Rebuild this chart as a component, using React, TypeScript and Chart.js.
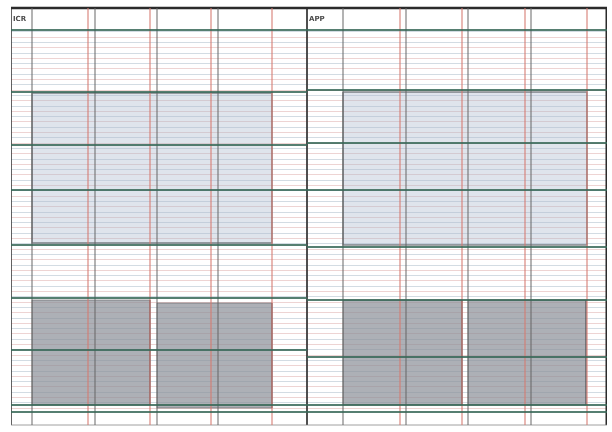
import React, { useEffect, useRef } from 'react';
import { Chart, registerables } from 'chart.js';

Chart.register(...registerables);

// Spread frame (layout units)
const spreadTop = 8;
const spreadBottom = 425;
const pageLeft = [11, 307];
const pageRight = [307, 607];
const pageLabels = ['ICR', 'APP'];

// Column guides (start / end of each column)
const leftColStarts = [32, 95, 157, 218];
const leftColEnds = [88, 150, 211, 272];
const rightColStarts = [343, 406, 468, 531];
const rightColEnds = [400, 462, 525, 587];

// Row guides per page
const leftRowGuides = [30, 92, 145, 190, 245, 298, 350, 405, 412];
const rightRowGuides = [30, 90, 143, 190, 247, 300, 357, 405, 412];

// Baseline grid
const baselineStep = 5.3;
const baselineFrom = 29;
const baselineTo = 413;

// Blocks
const lightBlockX = [[32, 272], [343, 587]];
const lightBlockY = [[93, 243], [92, 245]];
const darkBlockX = [[32, 150], [157, 272], [343, 462], [468, 586]];
const darkBlockY = [[300, 405], [303, 408], [300, 405], [300, 405]];

const GREEN = 'rgba(56,104,88,0.85)';
const RED = 'rgba(212,120,110,0.7)';
const GRAY = 'rgba(100,100,100,0.65)';
const DARK = '#2b2b2b';

function hLine(y: number, x0: number, x1: number, color: string, width: number) {
  return {
    data: [{ x: x0, y }, { x: x1, y }],
    borderColor: color,
    borderWidth: width,
    pointRadius: 0,
    fill: false,
    order: 0,
  };
}

function vLine(x: number, y0: number, y1: number, color: string, width: number) {
  return {
    data: [{ x, y: y0 }, { x, y: y1 }],
    borderColor: color,
    borderWidth: width,
    pointRadius: 0,
    fill: false,
    order: 0,
  };
}

function blockFill(xs: number[], ys: number[], color: string) {
  return {
    data: [{ x: xs[0], y: ys[0] }, { x: xs[1], y: ys[0] }],
    borderWidth: 0,
    borderColor: 'rgba(0,0,0,0)',
    backgroundColor: color,
    pointRadius: 0,
    fill: { value: ys[1] },
    order: 3,
  };
}

function blockOutline(xs: number[], ys: number[], color: string, width: number) {
  return {
    data: [
      { x: xs[0], y: ys[0] },
      { x: xs[1], y: ys[0] },
      { x: xs[1], y: ys[1] },
      { x: xs[0], y: ys[1] },
      { x: xs[0], y: ys[0] },
    ],
    borderColor: color,
    borderWidth: width,
    pointRadius: 0,
    fill: false,
    order: 1,
  };
}

const labelPlugin = {
  id: 'pageLabels',
  afterDatasetsDraw(chart: any) {
    const { ctx, scales } = chart;
    const x = scales.x;
    const y = scales.y;
    ctx.save();
    ctx.font = 'bold 7px "DejaVu Sans"';
    ctx.fillStyle = '#4a4a4a';
    ctx.textBaseline = 'middle';
    [pageLeft, pageRight].forEach((p, i) => {
      ctx.fillText(pageLabels[i], x.getPixelForValue(p[0] + 2), y.getPixelForValue(19));
    });
    ctx.restore();
  },
};

export default function App() {
  const ref = useRef<HTMLCanvasElement | null>(null);

  useEffect(() => {
    if (!ref.current) return;
    const datasets: any[] = [];

    lightBlockX.forEach((xs, i) => {
      datasets.push(blockFill(xs, lightBlockY[i], 'rgba(175,188,208,0.4)'));
      datasets.push(blockOutline(xs, lightBlockY[i], 'rgba(80,85,90,0.7)', 1.5));
    });
    darkBlockX.forEach((xs, i) => {
      datasets.push(blockFill(xs, darkBlockY[i], 'rgba(142,145,154,0.72)'));
      datasets.push(blockOutline(xs, darkBlockY[i], 'rgba(80,80,85,0.55)', 1));
    });

    leftRowGuides.forEach((y) => datasets.push(hLine(y, pageLeft[0], pageLeft[1], GREEN, 2)));
    rightRowGuides.forEach((y) => datasets.push(hLine(y, pageRight[0], pageRight[1], GREEN, 2)));

    [...leftColStarts, ...rightColStarts].forEach((x) => datasets.push(vLine(x, spreadTop, spreadBottom, GRAY, 1.5)));
    [...leftColEnds, ...rightColEnds].forEach((x) => datasets.push(vLine(x, spreadTop, spreadBottom, RED, 1.5)));

    // frame
    datasets.push(hLine(spreadTop, pageLeft[0], pageRight[1], DARK, 2.5));
    datasets.push(hLine(spreadBottom, pageLeft[0], pageRight[1], 'rgba(120,120,120,0.7)', 1));
    datasets.push(vLine(pageLeft[0], spreadTop, spreadBottom, 'rgba(70,70,70,0.85)', 2));
    datasets.push(vLine(pageLeft[1], spreadTop, spreadBottom, 'rgba(60,60,60,0.9)', 2));
    datasets.push(vLine(pageRight[1], spreadTop, spreadBottom, DARK, 3));

    const chart = new Chart(ref.current, {
      type: 'line',
      data: { datasets },
      options: {
        animation: false,
        responsive: false,
        events: [],
        layout: { padding: { left: pageLeft[0], right: 612 - pageRight[1], top: 0, bottom: 0 } },
        plugins: { legend: { display: false }, tooltip: { enabled: false }, title: { display: false } },
        elements: { line: { tension: 0 } },
        scales: {
          x: {
            type: 'linear',
            min: pageLeft[0],
            max: pageRight[1],
            display: false,
          },
          y: {
            type: 'linear',
            min: 0,
            max: 432,
            reverse: true,
            display: true,
            ticks: { display: false, stepSize: baselineStep },
            border: { display: false },
            grid: {
              drawTicks: false,
              lineWidth: 1,
              color: (ctx: any) => {
                const v = ctx.tick ? ctx.tick.value : 0;
                if (v < baselineFrom || v > baselineTo) return 'rgba(0,0,0,0)';
                return ctx.index % 2 === 0 ? 'rgba(222,170,168,0.5)' : 'rgba(168,186,200,0.5)';
              },
            },
          },
        },
      } as any,
      plugins: [labelPlugin],
    });
    return () => chart.destroy();
  }, []);

  return (
    <div style={{ position: 'absolute', left: 0, top: 0, width: 612, height: 432, background: '#ffffff' }}>
      <canvas ref={ref} width={612} height={432} style={{ display: 'block' }} />
    </div>
  );
}
